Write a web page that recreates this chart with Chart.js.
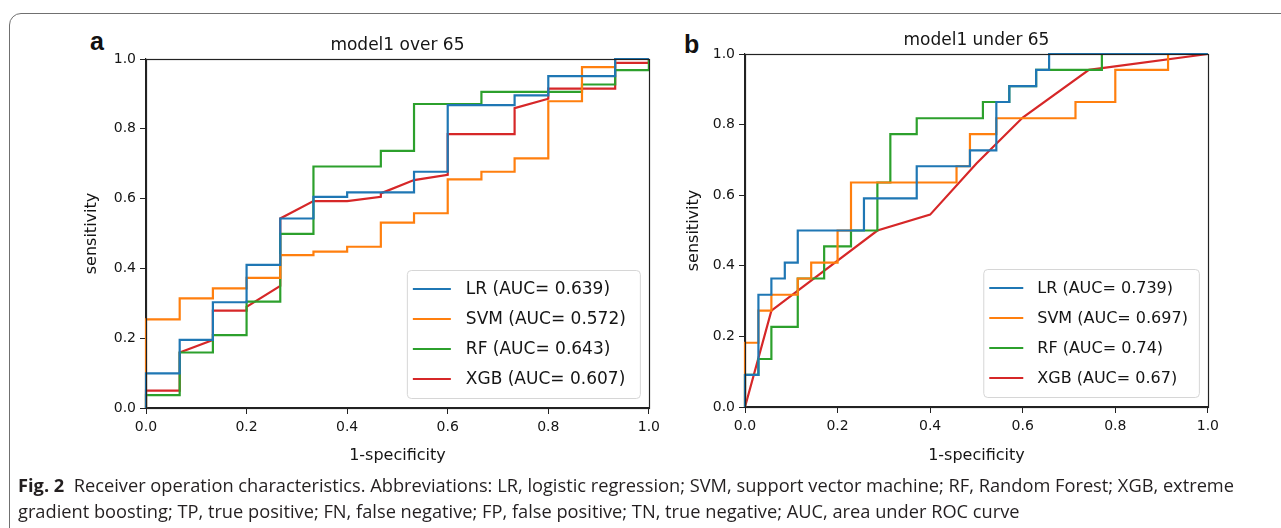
<!DOCTYPE html>
<html lang="en">
<head>
<meta charset="UTF-8">
<title>Fig. 2 Receiver operation characteristics</title>
<style>
  body { margin: 0; background: #fff; width: 1281px; height: 528px; overflow: hidden; position: relative; }
  .frame { position: absolute; left: 9px; top: 13px; width: 1320px; height: 620px; border: 1.5px solid #707070; border-radius: 12px; }
  .panel { position: absolute; top: 16px; }
  .tag { position: absolute; font: bold 25px "Liberation Sans", Arial, sans-serif; line-height: 1; color: #111; }
  .cap { position: absolute; left: 18px; font: 18.5px "Open Sans", sans-serif; color: #231f20; white-space: nowrap; transform-origin: 0 50%; }
</style>
</head>
<body>
<div class="frame"></div>
<div class="tag" style="left:90px; top:29px;">a</div>
<div class="tag" style="left:684px; top:32px;">b</div>
<div class="panel" style="left:56px;"><canvas id="chartA" width="609" height="460"></canvas></div>
<div class="panel" style="left:655px;"><canvas id="chartB" width="569" height="460"></canvas></div>
<div class="cap" id="cap1" style="top:472px;"><b>Fig. 2</b>&nbsp; Receiver operation characteristics. Abbreviations: LR, logistic regression; SVM, support vector machine; RF, Random Forest; XGB, extreme</div>
<div class="cap" id="cap2" style="top:498px;">gradient boosting; TP, true positive; FN, false negative; FP, false positive; TN, true negative; AUC, area under ROC curve</div>

<script src="https://cdn.jsdelivr.net/npm/chart.js"></script>
<script>
// ---- data ----
const models = ["LR", "SVM", "RF", "XGB"];
const colors = ["#1f77b4", "#ff7f0e", "#2ca02c", "#d62728"];
const tickValues = [0, 0.2, 0.4, 0.6, 0.8, 1.0];

// panel a: model1 over 65
const aucOver = ["0.639", "0.572", "0.643", "0.607"];
const lrOverFpr  = [0, 0, 0.067, 0.067, 0.133, 0.133, 0.2, 0.2, 0.267, 0.267, 0.333, 0.333, 0.4, 0.4, 0.533, 0.533, 0.6, 0.6, 0.733, 0.733, 0.8, 0.8, 0.933, 0.933, 1];
const lrOverTpr  = [0, 0.099, 0.099, 0.195, 0.195, 0.303, 0.303, 0.41, 0.41, 0.543, 0.543, 0.605, 0.605, 0.618, 0.618, 0.677, 0.677, 0.868, 0.868, 0.896, 0.896, 0.951, 0.951, 1, 1];
const svmOverFpr = [0, 0, 0.067, 0.067, 0.133, 0.133, 0.2, 0.2, 0.267, 0.267, 0.333, 0.333, 0.4, 0.4, 0.467, 0.467, 0.533, 0.533, 0.6, 0.6, 0.667, 0.667, 0.733, 0.733, 0.8, 0.8, 0.867, 0.867, 0.933, 0.933, 1];
const svmOverTpr = [0, 0.254, 0.254, 0.314, 0.314, 0.343, 0.343, 0.373, 0.373, 0.438, 0.438, 0.448, 0.448, 0.462, 0.462, 0.531, 0.531, 0.558, 0.558, 0.655, 0.655, 0.677, 0.677, 0.715, 0.715, 0.879, 0.879, 0.977, 0.977, 1, 1];
const rfOverFpr  = [0, 0, 0.067, 0.067, 0.133, 0.133, 0.2, 0.2, 0.267, 0.267, 0.333, 0.333, 0.467, 0.467, 0.533, 0.533, 0.667, 0.667, 0.867, 0.867, 0.933, 0.933, 1, 1];
const rfOverTpr  = [0, 0.037, 0.037, 0.159, 0.159, 0.209, 0.209, 0.305, 0.305, 0.499, 0.499, 0.692, 0.692, 0.737, 0.737, 0.871, 0.871, 0.906, 0.906, 0.927, 0.927, 0.968, 0.968, 1];
const xgbOverFpr = [0, 0, 0.067, 0.067, 0.133, 0.133, 0.2, 0.2, 0.267, 0.267, 0.333, 0.4, 0.467, 0.467, 0.533, 0.6, 0.6, 0.733, 0.733, 0.8, 0.8, 0.933, 0.933, 1, 1];
const xgbOverTpr = [0, 0.05, 0.05, 0.159, 0.195, 0.279, 0.279, 0.29, 0.35, 0.543, 0.593, 0.593, 0.605, 0.615, 0.653, 0.668, 0.785, 0.785, 0.859, 0.886, 0.915, 0.915, 0.989, 0.989, 1];

// panel b: model1 under 65
const aucUnder = ["0.739", "0.697", "0.74", "0.67"];
const lrUnderFpr  = [0, 0, 0.029, 0.029, 0.057, 0.057, 0.086, 0.086, 0.114, 0.114, 0.257, 0.257, 0.371, 0.371, 0.486, 0.486, 0.543, 0.543, 0.571, 0.571, 0.629, 0.629, 0.657, 0.657, 1];
const lrUnderTpr  = [0, 0.091, 0.091, 0.318, 0.318, 0.364, 0.364, 0.409, 0.409, 0.5, 0.5, 0.591, 0.591, 0.682, 0.682, 0.727, 0.727, 0.864, 0.864, 0.909, 0.909, 0.955, 0.955, 1, 1];
const svmUnderFpr = [0, 0, 0.029, 0.029, 0.057, 0.057, 0.114, 0.114, 0.143, 0.143, 0.2, 0.2, 0.229, 0.229, 0.457, 0.457, 0.486, 0.486, 0.543, 0.543, 0.714, 0.714, 0.8, 0.8, 0.914, 0.914, 1];
const svmUnderTpr = [0, 0.182, 0.182, 0.273, 0.273, 0.318, 0.318, 0.364, 0.364, 0.409, 0.409, 0.5, 0.5, 0.636, 0.636, 0.682, 0.682, 0.773, 0.773, 0.818, 0.818, 0.864, 0.864, 0.955, 0.955, 1, 1];
const rfUnderFpr  = [0, 0, 0.029, 0.029, 0.057, 0.057, 0.114, 0.114, 0.171, 0.171, 0.229, 0.229, 0.286, 0.286, 0.314, 0.314, 0.371, 0.371, 0.514, 0.514, 0.571, 0.571, 0.629, 0.629, 0.771, 0.771, 1];
const rfUnderTpr  = [0, 0.091, 0.091, 0.136, 0.136, 0.227, 0.227, 0.364, 0.364, 0.455, 0.455, 0.5, 0.5, 0.636, 0.636, 0.773, 0.773, 0.818, 0.818, 0.864, 0.864, 0.909, 0.909, 0.955, 0.955, 1, 1];
const xgbUnderFpr = [0, 0.057, 0.286, 0.4, 0.5, 0.6, 0.743, 1];
const xgbUnderTpr = [0, 0.273, 0.5, 0.545, 0.69, 0.82, 0.955, 1];

// ---- drawing ----
Chart.defaults.font.family = '"DejaVu Sans", sans-serif';
Chart.defaults.color = '#151515';

const framePlugin = {
  id: 'axesFrame',
  afterDatasetsDraw(chart) {
    const { ctx, chartArea: a } = chart;
    ctx.save();
    ctx.strokeStyle = '#222';
    ctx.lineWidth = 1.2;
    ctx.strokeRect(Math.round(a.left) + 0.5, Math.round(a.top) + 0.5, Math.round(a.width), Math.round(a.height));
    ctx.restore();
  }
};

const titlePlugin = {
  id: 'panelTitle',
  afterDraw(chart, args, o) {
    const { ctx, chartArea: a } = chart;
    ctx.save();
    ctx.font = '17px "DejaVu Sans"';
    ctx.fillStyle = '#151515';
    ctx.textAlign = 'center';
    ctx.textBaseline = 'alphabetic';
    ctx.fillText(o.text, (a.left + a.right) / 2, a.top - 9);
    ctx.restore();
  }
};

const legendPlugin = {
  id: 'rocLegend',
  afterDatasetsDraw(chart, args, o) {
    const { ctx, chartArea: a } = chart;
    const ds = chart.data.datasets;
    ctx.save();
    ctx.font = o.size + 'px "DejaVu Sans"';
    const tw = Math.max(...ds.map(d => ctx.measureText(d.label).width));
    const w = o.padL + o.handle + o.gap + tw + o.padR;
    const h = ds.length * o.row + 8;
    const x0 = a.right - 9 - w, y0 = a.bottom - 10 - h;
    ctx.beginPath();
    ctx.roundRect(x0 + 0.5, y0 + 0.5, w, h, 4);
    ctx.fillStyle = 'rgba(255,255,255,0.85)';
    ctx.fill();
    ctx.strokeStyle = '#d6d6d6';
    ctx.lineWidth = 1;
    ctx.stroke();
    ds.forEach((d, i) => {
      const cy = y0 + 4 + o.row * (i + 0.5);
      ctx.beginPath();
      ctx.moveTo(x0 + o.padL, cy);
      ctx.lineTo(x0 + o.padL + o.handle, cy);
      ctx.strokeStyle = d.borderColor;
      ctx.lineWidth = 2.2;
      ctx.stroke();
      ctx.fillStyle = '#151515';
      ctx.textBaseline = 'middle';
      ctx.fillText(d.label, x0 + o.padL + o.handle + o.gap, cy + 1);
    });
    ctx.restore();
  }
};

function makeChart(id, title, auc, fprs, tprs, cfg) {
  const datasets = models.map((m, i) => ({
    label: m + ' (AUC= ' + auc[i] + ')',
    data: fprs[i].map((x, j) => ({ x: x, y: tprs[i][j] })),
    showLine: true,
    borderColor: colors[i],
    borderWidth: 2.2,
    pointRadius: 0,
    fill: false,
    tension: 0,
    clip: 3
  }));
  new Chart(document.getElementById(id), {
    type: 'scatter',
    data: { datasets: datasets },
    options: {
      responsive: false,
      animation: false,
      events: [],
      layout: { padding: { top: cfg.top, right: 14, left: 0, bottom: 0 } },
      plugins: {
        legend: { display: false },
        tooltip: { enabled: false },
        panelTitle: { text: title },
        rocLegend: cfg.legend
      },
      scales: {
        x: {
          type: 'linear', min: 0, max: 1,
          afterBuildTicks: s => { s.ticks = tickValues.map(v => ({ value: v })); },
          afterFit: s => { s.height = cfg.xh; },
          grid: { drawOnChartArea: false, drawTicks: true, tickLength: 6, tickColor: '#222' },
          border: { color: '#222', width: 1.2 },
          ticks: { font: { size: 14 }, padding: 5, maxRotation: 0, autoSkip: false, callback: v => v.toFixed(1) },
          title: { display: true, text: '1-specificity', font: { size: 16 }, padding: { top: 0, bottom: 11 } }
        },
        y: {
          type: 'linear', min: 0, max: 1,
          afterBuildTicks: s => { s.ticks = tickValues.map(v => ({ value: v })); },
          afterFit: s => { s.width = 90; },
          grid: { drawOnChartArea: false, drawTicks: true, tickLength: 6, tickColor: '#222' },
          border: { color: '#222', width: 1.2 },
          ticks: { font: { size: 14 }, padding: 4, autoSkip: false, callback: v => v.toFixed(1) },
          title: { display: true, text: 'sensitivity', font: { size: 16 }, padding: { top: cfg.ytp, bottom: 0 } }
        }
      }
    },
    plugins: [framePlugin, legendPlugin, titlePlugin]
  });
}

makeChart('chartA', 'model1 over 65', aucOver,
  [lrOverFpr, svmOverFpr, rfOverFpr, xgbOverFpr],
  [lrOverTpr, svmOverTpr, rfOverTpr, xgbOverTpr],
  { top: 43, xh: 68, ytp: 26, legend: { size: 17, row: 30, padL: 6, handle: 38, gap: 15, padR: 14 } });

makeChart('chartB', 'model1 under 65', aucUnder,
  [lrUnderFpr, svmUnderFpr, rfUnderFpr, xgbUnderFpr],
  [lrUnderTpr, svmUnderTpr, rfUnderTpr, xgbUnderTpr],
  { top: 38, xh: 69, ytp: 29, legend: { size: 16, row: 30, padL: 6, handle: 34, gap: 14, padR: 11 } });

// stretch the caption lines to the width they take in the figure
const cap1 = document.getElementById('cap1');
const cap2 = document.getElementById('cap2');
const k = 1216 / cap1.getBoundingClientRect().width;
cap1.style.transform = cap2.style.transform = 'scaleX(' + k + ')';
</script>
</body>
</html>
